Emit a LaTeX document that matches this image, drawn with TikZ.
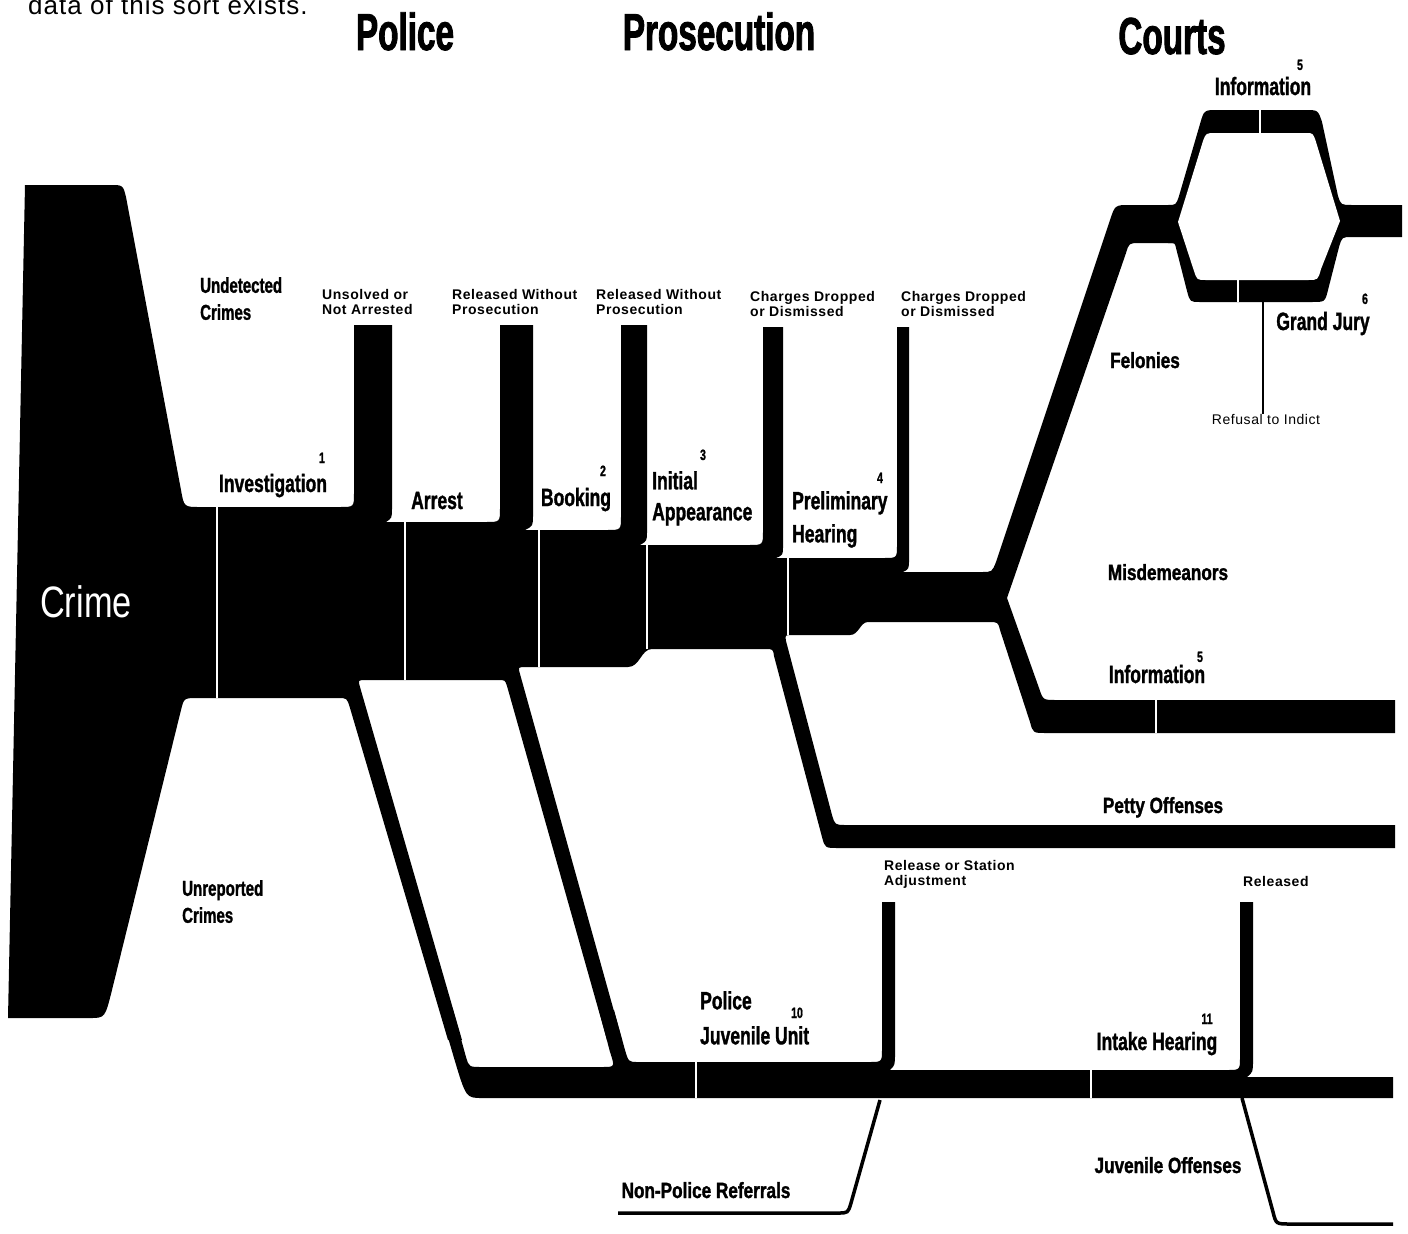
\documentclass[tikz,border=0pt]{standalone}
\usepackage{fontspec}
\setmainfont{Liberation Sans}
\newfontfamily\headfont[FakeStretch=0.64, FakeBold=1.6]{Liberation Sans}
\newfontfamily\stagefont[FakeStretch=0.7, FakeBold=1.2]{Liberation Sans}
\newfontfamily\courtfont[FakeStretch=0.78, FakeBold=1.4]{Liberation Sans}
\newfontfamily\crimefont[FakeStretch=0.78]{Liberation Sans}
\newfontfamily\spacedfont[LetterSpace=4]{Liberation Sans}
\usepackage{tikz}

\begin{document}
\begin{tikzpicture}[x=1pt, y=-1pt,
		flow/.style={fill=black},
		gap/.style={draw=white, line width=1.5},
		thinflow/.style={draw=black, line width=3.5},
		head/.style={font=\headfont\bfseries\fontsize{52}{56}\selectfont, inner sep=0},
		stage/.style={font=\stagefont\bfseries\fontsize{25}{32}\selectfont, inner sep=0, align=left},
		side/.style={font=\stagefont\bfseries\fontsize{21.5}{27}\selectfont, inner sep=0, align=left},
		court/.style={font=\courtfont\bfseries\fontsize{22}{26}\selectfont, inner sep=0},
		note/.style={font=\spacedfont\bfseries\fontsize{14}{15}\selectfont, inner sep=0, align=left},
		num/.style={font=\stagefont\bfseries\fontsize{15}{15}\selectfont, inner sep=0}]
		\useasboundingbox (0,0) rectangle (1408,1234);

		% crime, trunk, drop-out columns and the branches off the trunk
		\fill[flow] (25,185) -- (110,185) .. controls (123,185) .. (126,197)
			-- (181,490) .. controls (184,507) .. (200,507)
			-- (340,507) .. controls (354,507) .. (354,493)
			-- (354,325) -- (392,325)
			-- (392,508) .. controls (392,518) .. (386,522)
			-- (486,522) .. controls (500,522) .. (500,508)
			-- (500,325) -- (533,325)
			-- (533,515) .. controls (533,526) .. (525,530)
			-- (607,530) .. controls (621,530) .. (621,516)
			-- (621,325) -- (647,325)
			-- (647,531) .. controls (647,541) .. (640,545)
			-- (749,545) .. controls (763,545) .. (763,531)
			-- (763,327) -- (783,327)
			-- (783,546) .. controls (783,555) .. (776,558)
			-- (884,558) .. controls (897,558) .. (897,545)
			-- (897,327) -- (909,327)
			-- (909,559) .. controls (909,569) .. (903,572)
			-- (982,572) .. controls (992,572) .. (996,562)
			-- (1110,220) .. controls (1115,205) .. (1130,205)
			-- (1180,205) -- (1180,243)
			-- (1140,243) .. controls (1129,243) .. (1126,253)
			-- (1007,598)
			-- (1039,688) .. controls (1043,700) .. (1056,700)
			-- (1395,700) -- (1395,733)
			-- (1046,733) .. controls (1033,733) .. (1030,722)
			-- (1000,630) .. controls (998,622) .. (988,622)
			-- (868,622) .. controls (860,622) and (859,635) .. (850,635)
			-- (792,635) .. controls (785,635) .. (786,641)
			-- (832,815) .. controls (835,825) .. (846,825)
			-- (1395,825) -- (1395,848)
			-- (838,848) .. controls (825,848) .. (822,837)
			-- (774,656) .. controls (773,649) .. (765,649)
			-- (652,649) .. controls (641,649) and (640,667) .. (628,667)
			-- (526,667) .. controls (518,667) .. (520,674)
			-- (622,1040) -- (607,1040)
			-- (507,686) .. controls (505,680) .. (498,680)
			-- (366,680) .. controls (358,680) .. (360,687)
			-- (462,1040) -- (448,1040)
			-- (350,708) .. controls (347,698) .. (338,698)
			-- (198,698) .. controls (184,698) .. (181,710)
			-- (112,990) .. controls (105,1018) .. (90,1018)
			-- (8,1018) -- cycle;

		% juvenile line
		\fill[flow] (440,1010) -- (454,1058) .. controls (466,1098) .. (482,1098)
			-- (1393,1098) -- (1393,1077)
			-- (1247,1077) .. controls (1253,1072) .. (1253,1060)
			-- (1253,902) -- (1240,902)
			-- (1240,1057) .. controls (1240,1070) .. (1227,1070)
			-- (890,1070) .. controls (895,1065) .. (895,1053)
			-- (895,902) -- (882,902)
			-- (882,1049) .. controls (882,1062) .. (869,1062)
			-- (638,1062) .. controls (628.6,1062) .. (625,1050)
			-- (614,1010) -- (599,1010)
			-- (610,1052) .. controls (615,1067) .. (602,1067)
			-- (482,1067) .. controls (469,1067) .. (466,1057)
			-- (453,1010) -- cycle;

		% information / grand jury split
		\fill[flow] (1168,205) .. controls (1176,205) .. (1179,196)
			-- (1200,124) .. controls (1204,110) .. (1218,110)
			-- (1305,110) .. controls (1318,110) .. (1322,122)
			-- (1338,196) .. controls (1341,205) .. (1352,205)
			-- (1402,205) -- (1402,237)
			-- (1352,237) .. controls (1342,237) .. (1339,247)
			-- (1328,290) .. controls (1325,302) .. (1312,302)
			-- (1200,302) .. controls (1190,302) .. (1187,291)
			-- (1176,248) .. controls (1175,243) .. (1168,243) -- cycle;
		\fill[white] (1178,222) -- (1203,141) .. controls (1206,133) .. (1216,133)
			-- (1306,133) .. controls (1313,133) .. (1316,142)
			-- (1340,221)
			-- (1321,269) .. controls (1318,280) .. (1308,280)
			-- (1206,280) .. controls (1197,280) .. (1194,271)
			-- cycle;

		\draw[thinflow] (618,1213) -- (838,1213) .. controls (848,1213) .. (851,1203) -- (880,1100);
		\draw[thinflow] (1242,1098) -- (1273,1212) .. controls (1276,1224) .. (1290,1224) -- (1393,1224);

		\foreach \sx/\sa/\sb in {217/507/698, 405/522/680, 539/530/667, 647/545/649, 788/558/635, 1156/700/733, 696/1062/1098, 1091/1070/1098, 1260/110/133, 1238/280/302} {
			\draw[gap] (\sx,\sa) -- (\sx,\sb);
		}

		\node[anchor=base west, inner sep=0, font=\spacedfont\fontsize{26}{26}\selectfont] (caption) at (28,14) {data of this sort exists.};
		\node[head, anchor=base] (police) at (405,50) {Police};
		\node[head, anchor=base] (prosecution) at (719,50) {Prosecution};
		\node[head, anchor=base] (courts) at (1172,54) {Courts};

		\node[num, anchor=base] (n5top) at (1300,70) {5};
		\node[stage, anchor=base] (infotop) at (1263,95) {Information};
		\node[num, anchor=base] (n6) at (1365,304) {6};
		\node[stage, anchor=base] (grandjury) at (1323,330) {Grand Jury};
		\node[court, anchor=base] (felonies) at (1145,368) {Felonies};
		\node[anchor=base, inner sep=0, font=\spacedfont\fontsize{14}{14}\selectfont] (refusal) at (1266,424) {Refusal to Indict};
		\coordinate (gjout) at (1263,302);
		\draw[line width=1.5] (gjout) -- (gjout |- refusal.north);

		\node[side, anchor=north west] (undetected) at (200,277) {Undetected\\Crimes};
		\node[note, anchor=north west] (unsolved) at (322,289) {Unsolved or\\Not Arrested};
		\node[note, anchor=north west] (released1) at (452,289) {Released Without\\Prosecution};
		\node[note, anchor=north west] (released2) at (596,289) {Released Without\\Prosecution};
		\node[note, anchor=north west] (dropped1) at (750,291) {Charges Dropped\\or Dismissed};
		\node[note, anchor=north west] (dropped2) at (901,291) {Charges Dropped\\or Dismissed};

		\node[num, anchor=base] (n1) at (322,463) {1};
		\node[stage, anchor=base] (investigation) at (273,492) {Investigation};
		\node[stage, anchor=base] (arrest) at (437,509) {Arrest};
		\node[num, anchor=base] (n2) at (603,476) {2};
		\node[stage, anchor=base] (booking) at (576,506) {Booking};
		\node[num, anchor=base] (n3) at (703,460) {3};
		\node[stage, anchor=north west, font=\stagefont\bfseries\fontsize{25}{31}\selectfont] (initial) at (652,471) {Initial\\Appearance};
		\node[num, anchor=base] (n4) at (880,483) {4};
		\node[stage, anchor=north west, font=\stagefont\bfseries\fontsize{25}{33}\selectfont] (prelim) at (792,491) {Preliminary\\Hearing};
		\node[anchor=base west, inner sep=0, text=white, font=\crimefont\fontsize{44}{44}\selectfont] (crime) at (40,617) {Crime};

		\node[court, anchor=base] (misdemeanors) at (1168,580) {Misdemeanors};
		\node[stage, anchor=base] (infolow) at (1157,683) {Information};
		\node[num, anchor=base] (n5low) at (1200,662) {5};
		\node[court, anchor=base] (petty) at (1163,813) {Petty Offenses};

		\node[side, anchor=north west] (unreported) at (182,880) {Unreported\\Crimes};
		\node[note, anchor=north west] (station) at (884,860) {Release or Station\\Adjustment};
		\node[note, anchor=base west] (released3) at (1243,886) {Released};
		\node[stage, anchor=north west, font=\stagefont\bfseries\fontsize{25}{35}\selectfont] (juvunit) at (700,991) {Police\\Juvenile Unit};
		\node[num, anchor=base] (n10) at (797,1018) {10};
		\node[num, anchor=base] (n11) at (1207,1024) {11};
		\node[stage, anchor=base] (intake) at (1157,1050) {Intake Hearing};
		\node[court, anchor=base] (juvoff) at (1168,1173) {Juvenile Offenses};
		\node[court, anchor=base] (nonpolice) at (706,1198) {Non-Police Referrals};
\end{tikzpicture}
\end{document}
